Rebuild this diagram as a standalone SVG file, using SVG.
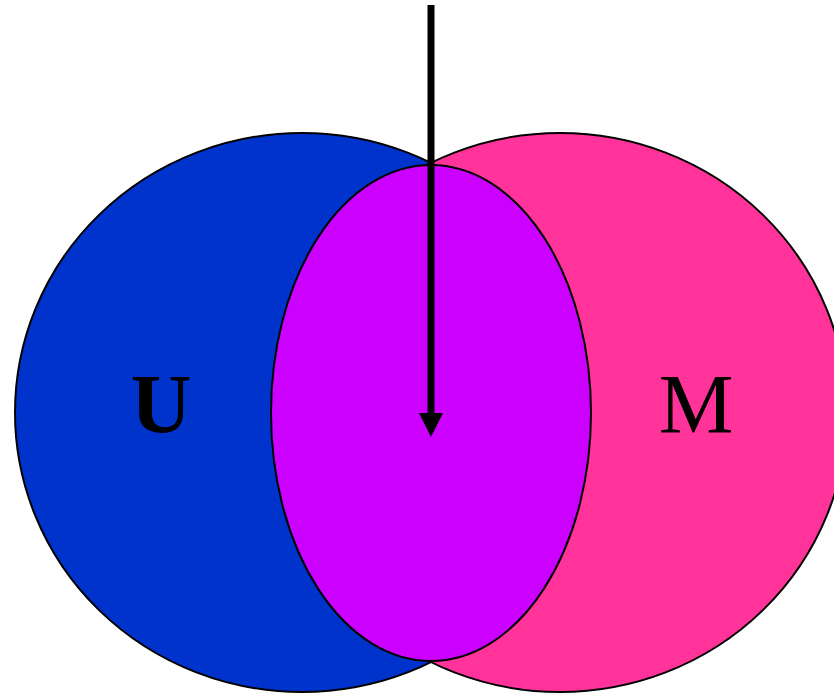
<svg xmlns="http://www.w3.org/2000/svg" width="834" height="693" viewBox="0 0 834 693">
<style>
.set{stroke:#000;stroke-width:2}
.lbl{font-family:"Liberation Serif","Times New Roman",serif;font-size:84px;fill:#000;text-anchor:middle}
</style>
<defs>
<marker id="ah" markerUnits="userSpaceOnUse" markerWidth="24" markerHeight="24" refX="0" refY="12" orient="auto">
<path d="M0,0 L24,12 L0,24 Z" fill="#000"/>
</marker>
</defs>
<g id="U">
<ellipse class="set" cx="302" cy="412.5" rx="287" ry="279.5" fill="#0033CC"/>
</g>
<g id="M">
<ellipse class="set" cx="560" cy="412.5" rx="287" ry="279.5" fill="#FF3399"/>
</g>
<g id="intersection">
<ellipse class="set" cx="431" cy="413" rx="160" ry="248" fill="#CC00FF"/>
</g>
<g id="labels">
<text class="lbl" x="161" y="433" font-weight="bold">U</text>
<text class="lbl" x="696" y="433">M</text>
</g>
<g id="connectors">
<line x1="431" y1="5" x2="431" y2="413" stroke="#000" stroke-width="7" marker-end="url(#ah)"/>
</g>
</svg>
